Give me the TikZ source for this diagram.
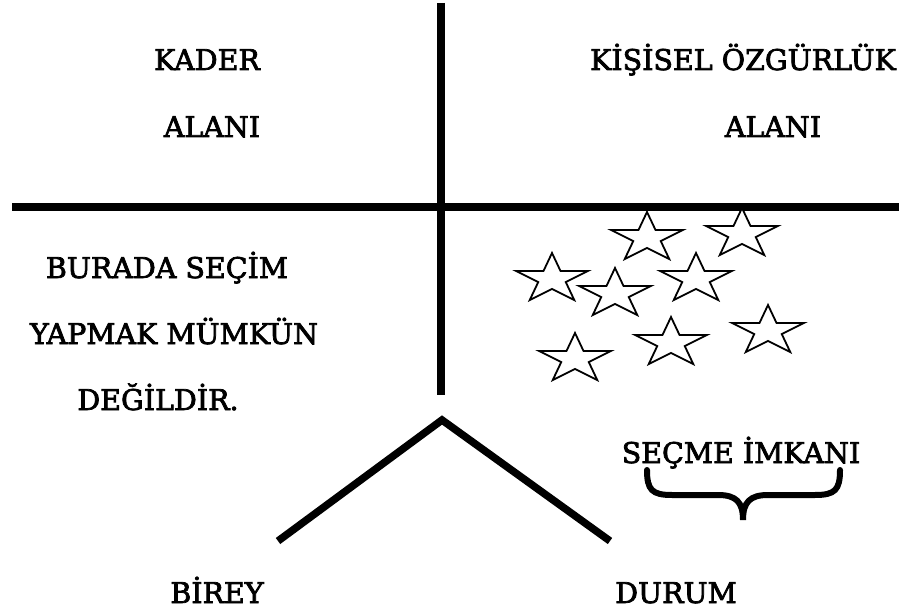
\documentclass[tikz,border=0pt]{standalone}
\usepackage{fontspec}
\setmainfont{DejaVu Serif}
\newfontfamily\lblfont{DejaVu Serif}[FakeBold=2.6]
\begin{document}
\begin{tikzpicture}[x=1pt,y=1pt,
  lbl/.style={anchor=base,inner sep=0pt,font=\lblfont\fontsize{28.5}{32}\selectfont},
  thickline/.style={line width=7.5pt},
  caretline/.style={line width=7.5pt},
  starline/.style={line width=1.8pt,line join=miter},
  bracestyle/.style={line width=6pt,line cap=round}]
\useasboundingbox (0,0) rectangle (899,-612);
% axes
\coordinate (vtop) at (441,-3);
\coordinate (vbot) at (441,-395);
\coordinate (hleft) at (12,-207);
\coordinate (hright) at (899,-207);
\draw[thickline] (vtop) -- (vbot);
\draw[thickline] (hleft) -- (hright);
% caret
\coordinate (apex) at (442,-420);
\coordinate (cl) at (278,-541);
\coordinate (cr) at (610,-541);
\draw[caretline] (cl) -- (apex) -- (cr);
% texts
\node[lbl] (kader) at (207,-70) {KADER};
\node[lbl] (alani1) at (212,-137) {ALANI};
\node[lbl] (kisisel) at (743,-70) {KİŞİSEL ÖZGÜRLÜK};
\node[lbl] (alani2) at (773,-137) {ALANI};
\node[lbl] (burada) at (167,-278) {BURADA SEÇİM};
\node[lbl] (yapmak) at (174,-344) {YAPMAK MÜMKÜN};
\node[lbl] (degil) at (158,-410) {DEĞİLDİR.};
\node[lbl] (secme) at (741,-463) {SEÇME İMKANI};
\node[lbl] (birey) at (217,-603) {BİREY};
\node[lbl] (durum) at (676,-603) {DURUM};
% brace
\coordinate (bl) at (647,-470);
\coordinate (br) at (840,-470);
\coordinate (btip) at (743,-520);
\draw[bracestyle] (bl) .. controls (647,-490) and (652,-495) .. (672,-495)
  -- (718,-495) .. controls (736,-495) and (743,-502) .. (btip)
  .. controls (743,-502) and (750,-495) .. (768,-495)
  -- (815,-495) .. controls (835,-495) and (840,-490) .. (br);
% stars
\foreach \cx/\cy in {647/238,742/234,552/279,615/294,696/279,768/331,671/343,575/359}{
  \draw[starline,fill=white,shift={(\cx,-\cy)},xscale=1.457]
    (90:26pt) -- (126:9.93pt) -- (162:26pt) -- (198:9.93pt) -- (234:26pt)
    -- (270:9.93pt) -- (306:26pt) -- (342:9.93pt) -- (18:26pt) -- (54:9.93pt) -- cycle;
}
\end{tikzpicture}
\end{document}
